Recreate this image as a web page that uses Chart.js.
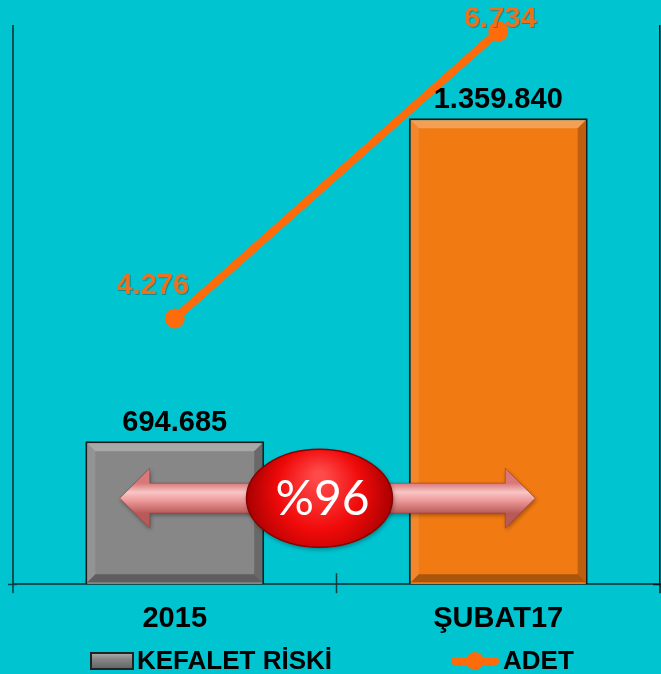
<!DOCTYPE html>
<html>
<head>
<meta charset="utf-8">
<script src="https://cdn.jsdelivr.net/npm/chart.js@4"></script>
<style>
  html, body { margin: 0; padding: 0; background: #00c5d1; }
  #wrap { width: 661px; height: 674px; }
</style>
</head>
<body>
<div id="wrap"><canvas id="myChart" width="661" height="674"></canvas></div>
<script>
// chart data
const categories = ['2015', 'ŞUBAT17'];
const kefaletRiski = [694685, 1359840];
const adet = [4276, 6734];
const seriesNames = ['KEFALET RİSKİ', 'ADET'];
const changeText = '%96';

const bgColor = '#00c5d1';
const barColors = ['#878787', '#f27a12'];
const lineColor = '#fd6b0b';
const fontFamily = "'Liberation Sans', Arial, sans-serif";

// turkish style thousands separator
function fmt(v) {
    return String(v).replace(/\B(?=(\d{3})+(?!\d))/g, '.');
}

const bgPlugin = {
    id: 'bg',
    beforeDraw(chart) {
        const ctx = chart.ctx;
        ctx.save();
        ctx.fillStyle = bgColor;
        ctx.fillRect(0, 0, chart.width, chart.height);
        ctx.restore();
    }
};

// bevel look on the bars
const bevelPlugin = {
    id: 'bevel',
    afterDatasetDraw(chart, args) {
        if (args.index !== 0) return;
        const ctx = chart.ctx;
        const area = chart.chartArea;
        args.meta.data.forEach((bar) => {
            const p = bar.getProps(['x', 'y', 'base', 'width'], true);
            const l = p.x - p.width / 2 + 2, r = p.x + p.width / 2 - 2;
            const t = p.y + 2, b = Math.min(p.base, area.bottom) - 2;
            const s = 8;
            const quad = (pts, col) => {
                ctx.beginPath();
                ctx.moveTo(pts[0][0], pts[0][1]);
                for (let i = 1; i < pts.length; i++) ctx.lineTo(pts[i][0], pts[i][1]);
                ctx.closePath();
                ctx.fillStyle = col;
                ctx.fill();
            };
            ctx.save();
            quad([[l, t], [r, t], [r - s, t + s], [l + s, t + s]], 'rgba(255,255,255,0.28)');
            quad([[l, t], [l + s, t + s], [l + s, b - s], [l, b]], 'rgba(255,255,255,0.10)');
            quad([[r, t], [r, b], [r - s, b - s], [r - s, t + s]], 'rgba(0,0,0,0.22)');
            quad([[l, b], [l + s, b - s], [r - s, b - s], [r, b]], 'rgba(0,0,0,0.30)');
            ctx.restore();
        });
    }
};

// double arrow with the red oval in the middle
const arrowPlugin = {
    id: 'arrow',
    afterDatasetsDraw(chart) {
        const ctx = chart.ctx;
        const area = chart.chartArea;
        const x = chart.scales.x;
        const cy = area.bottom - 86;
        const left = x.getPixelForValue(0) - 55;
        const right = x.getPixelForValue(1) + 37;
        const head = 30, hh = 30, sh = 15;

        ctx.save();
        const g = ctx.createLinearGradient(0, cy - sh, 0, cy + sh);
        g.addColorStop(0, '#d97878');
        g.addColorStop(0.3, '#f9c6c6');
        g.addColorStop(0.6, '#ec9696');
        g.addColorStop(1, '#b95a5a');
        ctx.beginPath();
        ctx.moveTo(left, cy);
        ctx.lineTo(left + head, cy - hh);
        ctx.lineTo(left + head, cy - sh);
        ctx.lineTo(right - head, cy - sh);
        ctx.lineTo(right - head, cy - hh);
        ctx.lineTo(right, cy);
        ctx.lineTo(right - head, cy + hh);
        ctx.lineTo(right - head, cy + sh);
        ctx.lineTo(left + head, cy + sh);
        ctx.lineTo(left + head, cy + hh);
        ctx.closePath();
        ctx.shadowColor = 'rgba(0,0,0,0.35)';
        ctx.shadowBlur = 4;
        ctx.shadowOffsetX = 1;
        ctx.shadowOffsetY = 2;
        ctx.fillStyle = g;
        ctx.fill();
        ctx.shadowColor = 'transparent';
        ctx.strokeStyle = 'rgba(150,60,60,0.6)';
        ctx.lineWidth = 1;
        ctx.stroke();

        // oval
        const ex = (area.left + area.right) / 2 - 17;
        const rx = 73, ry = 49;
        const rg = ctx.createRadialGradient(ex, cy - 22, 5, ex, cy, rx);
        rg.addColorStop(0, '#ff4a4a');
        rg.addColorStop(0.55, '#f00a0a');
        rg.addColorStop(1, '#a80000');
        ctx.beginPath();
        ctx.ellipse(ex, cy, rx, ry, 0, 0, Math.PI * 2);
        ctx.shadowColor = 'rgba(0,0,0,0.4)';
        ctx.shadowBlur = 5;
        ctx.shadowOffsetY = 2;
        ctx.fillStyle = rg;
        ctx.fill();
        ctx.shadowColor = 'transparent';
        ctx.strokeStyle = '#8a0000';
        ctx.lineWidth = 1.5;
        ctx.stroke();

        ctx.fillStyle = '#ffffff';
        ctx.font = "48px Lato, 'Open Sans', sans-serif";
        ctx.textAlign = 'center';
        ctx.textBaseline = 'middle';
        ctx.fillText(changeText, ex + 3, cy + 1);
        ctx.restore();
    }
};

// value labels
const labelPlugin = {
    id: 'valueLabels',
    afterDatasetsDraw(chart) {
        const ctx = chart.ctx;
        ctx.save();
        ctx.font = 'bold 29px ' + fontFamily;
        ctx.textAlign = 'center';
        ctx.textBaseline = 'alphabetic';

        chart.getDatasetMeta(0).data.forEach((bar, i) => {
            ctx.fillStyle = '#000';
            ctx.fillText(fmt(kefaletRiski[i]), bar.x, bar.y - 10);
        });

        const offs = [[-22, -24], [2, -24]];
        ctx.fillStyle = '#e8721f';
        ctx.shadowColor = 'rgba(0,0,0,0.25)';
        ctx.shadowOffsetX = 1;
        ctx.shadowOffsetY = 1;
        chart.getDatasetMeta(1).data.forEach((pt, i) => {
            const ty = Math.max(pt.y + offs[i][1], 27);
            ctx.fillText(fmt(adet[i]), pt.x + offs[i][0], ty);
        });
        ctx.restore();
    }
};

// tick marks on the axes
const tickPlugin = {
    id: 'tickMarks',
    afterDraw(chart) {
        const ctx = chart.ctx;
        const area = chart.chartArea;
        const y = chart.scales.y, y1 = chart.scales.y1, x = chart.scales.x;
        ctx.save();
        ctx.lineWidth = 1.5;
        ctx.strokeStyle = '#0b3f44';
        y.ticks.forEach((t) => {
            const py = Math.round(y.getPixelForValue(t.value)) + 0.5;
            ctx.beginPath();
            ctx.moveTo(area.left - 5, py);
            ctx.lineTo(area.left + 4, py);
            ctx.stroke();
        });
        ctx.strokeStyle = '#111';
        y1.ticks.forEach((t) => {
            const py = Math.round(y1.getPixelForValue(t.value)) + 0.5;
            ctx.beginPath();
            ctx.moveTo(area.right - 7, py);
            ctx.lineTo(area.right, py);
            ctx.stroke();
        });
        ctx.strokeStyle = '#0b3f44';
        [area.left, (x.getPixelForValue(0) + x.getPixelForValue(1)) / 2].forEach((px, i) => {
            ctx.beginPath();
            ctx.moveTo(px, i === 0 ? area.bottom : area.bottom - 11);
            ctx.lineTo(px, area.bottom + 9);
            ctx.stroke();
        });
        ctx.strokeStyle = '#111';
        ctx.beginPath();
        ctx.moveTo(area.right, area.bottom);
        ctx.lineTo(area.right, area.bottom + 9);
        ctx.stroke();
        ctx.restore();
    }
};

// legend drawn by hand so the spacing matches
const legendPlugin = {
    id: 'customLegend',
    afterDraw(chart) {
        const ctx = chart.ctx;
        const ly = chart.height - 13;
        ctx.save();
        // bar swatch
        const bx = 90, bw = 44, bh = 18;
        ctx.fillStyle = '#222';
        ctx.fillRect(bx, ly - bh / 2, bw, bh);
        const sg = ctx.createLinearGradient(0, ly - bh / 2, 0, ly + bh / 2);
        sg.addColorStop(0, '#b5b5b5');
        sg.addColorStop(0.35, '#8a8a8a');
        sg.addColorStop(1, '#5e5e5e');
        ctx.fillStyle = sg;
        ctx.fillRect(bx + 2, ly - bh / 2 + 2, bw - 4, bh - 4);

        // line swatch
        const lx = 451, lw = 48;
        ctx.strokeStyle = lineColor;
        ctx.lineWidth = 8;
        ctx.lineCap = 'round';
        ctx.beginPath();
        ctx.moveTo(lx + 4, ly);
        ctx.lineTo(lx + lw - 4, ly);
        ctx.stroke();
        ctx.fillStyle = lineColor;
        ctx.beginPath();
        ctx.arc(lx + lw / 2, ly, 9, 0, Math.PI * 2);
        ctx.fill();

        ctx.fillStyle = '#000';
        ctx.font = 'bold 26px ' + fontFamily;
        ctx.textAlign = 'left';
        ctx.textBaseline = 'middle';
        ctx.fillText(seriesNames[0], bx + bw + 3, ly + 1);
        ctx.fillText(seriesNames[1], lx + lw + 4, ly + 1);
        ctx.restore();
    }
};

const ctx = document.getElementById('myChart').getContext('2d');
const chart = new Chart(ctx, {
    data: {
        labels: categories,
        datasets: [{
            type: 'bar',
            label: seriesNames[0],
            data: kefaletRiski,
            yAxisID: 'y',
            base: 400000,
            backgroundColor: barColors,
            borderColor: '#1c1c1c',
            borderWidth: 2,
            barPercentage: 0.553,
            categoryPercentage: 1
        }, {
            type: 'line',
            label: seriesNames[1],
            data: adet,
            yAxisID: 'y1',
            borderColor: lineColor,
            backgroundColor: lineColor,
            borderWidth: 8,
            borderCapStyle: 'round',
            pointRadius: 10,
            pointBorderWidth: 0,
            pointBackgroundColor: lineColor,
            tension: 0,
            clip: false
        }]
    },
    options: {
        responsive: false,
        animation: false,
        layout: {
            autoPadding: false,
            padding: { left: 13, right: 1, top: 26, bottom: 21 }
        },
        plugins: {
            legend: { display: false },
            tooltip: { enabled: false }
        },
        scales: {
            x: {
                grid: { display: false, drawTicks: false },
                border: { display: true, color: '#0b4f55', width: 2 },
                ticks: {
                    color: '#000',
                    padding: 17,
                    font: { family: fontFamily, size: 29, weight: 'bold' }
                }
            },
            y: {
                position: 'left',
                min: 400000,
                max: 1550000,
                grid: { display: false, drawTicks: false },
                border: { display: true, color: '#0b4f55', width: 2 },
                ticks: { display: false, stepSize: 200000 },
                afterBuildTicks: (scale) => {
                    scale.ticks = scale.ticks.filter((t) => t.value % 200000 === 0);
                }
            },
            y1: {
                position: 'right',
                min: 2000,
                max: 6780,
                grid: { display: false, drawTicks: false },
                border: { display: true, color: '#111', width: 1.5 },
                ticks: { display: false, stepSize: 500 },
                afterBuildTicks: (scale) => {
                    scale.ticks = scale.ticks.filter((t) => t.value % 500 === 0);
                }
            }
        }
    },
    plugins: [bgPlugin, bevelPlugin, arrowPlugin, labelPlugin, tickPlugin, legendPlugin]
});
</script>
</body>
</html>
